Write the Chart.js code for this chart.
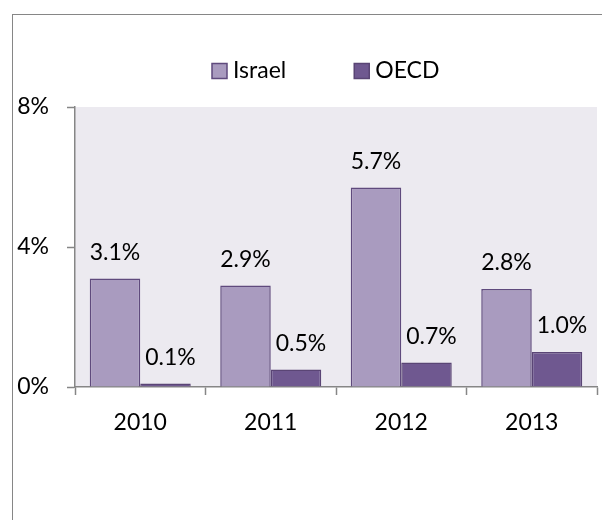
<!DOCTYPE html>
<html>
<head>
<meta charset="utf-8">
<script src="https://cdn.jsdelivr.net/npm/chart.js@4.4.1/dist/chart.umd.min.js"></script>
<style>
  html, body { margin: 0; padding: 0; background: #fff; overflow: hidden; }
  body { width: 602px; height: 520px; position: relative; }
  /* outer chart frame, cut off on the right and bottom like the screenshot */
  #frame { position: absolute; left: 12px; top: 14px; width: 640px; height: 560px;
           border: 1.5px solid #868686; box-sizing: border-box; }
  #chart { position: absolute; left: 0; top: 0; }
</style>
</head>
<body>
<div id="frame"></div>
<canvas id="chart" width="602" height="520"></canvas>
<script>
// data
const years = ['2010', '2011', '2012', '2013'];
const israel = [3.1, 2.9, 5.7, 2.8];
const oecd = [0.1, 0.5, 0.7, 1.0];
const yTicks = [0, 4, 8];

const FONT = 'Lato, "Open Sans", sans-serif';

// plot area background
const plotBg = {
    id: 'plotBg',
    beforeDraw: function(chart) {
        const a = chart.chartArea, ctx = chart.ctx;
        ctx.save();
        ctx.fillStyle = '#ECEAF0';
        ctx.fillRect(a.left, a.top, a.right - a.left, a.bottom - a.top);
        ctx.restore();
    }
};

// value labels above each bar
const valueLabels = {
    id: 'valueLabels',
    afterDatasetsDraw: function(chart) {
        const ctx = chart.ctx;
        ctx.save();
        ctx.font = '23px ' + FONT;
        ctx.fillStyle = '#000';
        ctx.textAlign = 'center';
        ctx.textBaseline = 'middle';
        chart.data.datasets.forEach(function(ds, i) {
            const meta = chart.getDatasetMeta(i);
            meta.data.forEach(function(bar, j) {
                const shift = i === 1 ? 5 : 0; // excel nudges the small ones a bit right
                ctx.fillText(ds.data[j].toFixed(1) + '%', bar.x + shift, bar.y - 26);
            });
        });
        ctx.restore();
    }
};

// legend like the excel one (box + name, one row)
const topLegend = {
    id: 'topLegend',
    afterDraw: function(chart) {
        const ctx = chart.ctx;
        let x = 212;
        const y = 71;
        ctx.save();
        ctx.font = '23px ' + FONT;
        ctx.textBaseline = 'middle';
        ctx.textAlign = 'left';
        chart.data.datasets.forEach(function(ds) {
            ctx.fillStyle = ds.backgroundColor;
            ctx.strokeStyle = ds.borderColor;
            ctx.lineWidth = 1.5;
            ctx.fillRect(x, y - 7.5, 15, 15);
            ctx.strokeRect(x, y - 7.5, 15, 15);
            ctx.fillStyle = '#000';
            ctx.fillText(ds.label, x + 21, y);
            x += 21 + ctx.measureText(ds.label).width + 68;
        });
        ctx.restore();
    }
};

const ctx = document.getElementById('chart');
new Chart(ctx, {
    type: 'bar',
    data: {
        labels: years,
        datasets: [{
            label: 'Israel',
            data: israel,
            backgroundColor: '#A99BBF',
            borderColor: '#5F4A7D',
            borderWidth: 1.5,
            borderSkipped: 'bottom'
        }, {
            label: 'OECD',
            data: oecd,
            backgroundColor: '#6F5890',
            borderColor: '#5A4575',
            borderWidth: 1.5,
            borderSkipped: 'bottom'
        }]
    },
    options: {
        responsive: false,
        animation: false,
        devicePixelRatio: 1,
        categoryPercentage: 0.774,
        barPercentage: 1,
        layout: { padding: { top: 107, right: 5, bottom: 73, left: 0 } },
        plugins: {
            legend: { display: false },
            tooltip: { enabled: false }
        },
        scales: {
            x: {
                grid: {
                    offset: true,
                    drawOnChartArea: false,
                    tickLength: 8,
                    tickWidth: 1.5,
                    color: '#868686'
                },
                border: { color: '#868686', width: 1.5 },
                ticks: {
                    color: '#000',
                    padding: 14,
                    font: { family: FONT, size: 23 }
                },
                afterFit: function(scale) { scale.height = 60; }
            },
            y: {
                min: 0,
                max: 8,
                afterBuildTicks: function(scale) {
                    scale.ticks = yTicks.map(function(v) { return { value: v }; });
                },
                grid: {
                    drawOnChartArea: false,
                    tickLength: 8,
                    tickWidth: 1.5,
                    color: '#868686'
                },
                border: { color: '#868686', width: 1.5 },
                ticks: {
                    color: '#000',
                    padding: 18,
                    font: { family: FONT, size: 23 },
                    callback: function(v) { return v + '%'; }
                },
                afterFit: function(scale) { scale.width = 75; }
            }
        }
    },
    plugins: [plotBg, valueLabels, topLegend]
});
</script>
</body>
</html>
